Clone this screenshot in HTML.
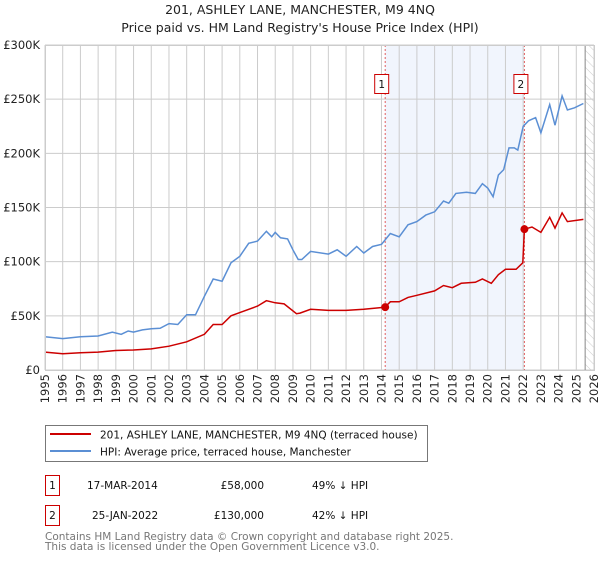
<!DOCTYPE html>
<html><head><meta charset="utf-8"><style>
body{margin:0;background:#fff;font-family:"Liberation Sans","DejaVu Sans",sans-serif;}
svg text{font-family:"DejaVu Sans","Liberation Sans",sans-serif;}
</style></head><body>
<svg id="c" width="600" height="560" xmlns="http://www.w3.org/2000/svg">
<text x="300" y="14" text-anchor="middle" font-size="12.5" fill="#222">201, ASHLEY LANE, MANCHESTER, M9 4NQ</text>
<text x="300" y="32" text-anchor="middle" font-size="12.5" fill="#222">Price paid vs. HM Land Registry's House Price Index (HPI)</text>
<g id="plot"></g>
<g>
<rect x="45.5" y="425.5" width="382" height="36" fill="#fff" stroke="#777"/>
<line x1="50" y1="434" x2="91" y2="434" stroke="#cc0000" stroke-width="2"/>
<text x="100" y="438.5" font-size="10.5" fill="#111">201, ASHLEY LANE, MANCHESTER, M9 4NQ (terraced house)</text>
<line x1="50" y1="451" x2="91" y2="451" stroke="#5b8fd4" stroke-width="2"/>
<text x="100" y="455.5" font-size="10.5" fill="#111">HPI: Average price, terraced house, Manchester</text>
</g>
<g font-size="10.5" fill="#111">
<rect x="45.5" y="475.5" width="14" height="20" fill="#fff" stroke="#cc0000"/>
<text x="52.5" y="489" text-anchor="middle">1</text>
<text x="87" y="489">17-MAR-2014</text>
<text x="264" y="489" text-anchor="end">£58,000</text>
<text x="312" y="489">49% ↓ HPI</text>
<rect x="45.5" y="505.5" width="14" height="20" fill="#fff" stroke="#cc0000"/>
<text x="52.5" y="519" text-anchor="middle">2</text>
<text x="92" y="519">25-JAN-2022</text>
<text x="264" y="519" text-anchor="end">£130,000</text>
<text x="312" y="519">42% ↓ HPI</text>
</g>
<text x="45" y="540" font-size="10.5" fill="#777">Contains HM Land Registry data © Crown copyright and database right 2025.</text>
<text x="45" y="550" font-size="10.5" fill="#777">This data is licensed under the Open Government Licence v3.0.</text>
</svg>
<script>
const hpiYears=[1995,1996,1997,1998,1998.8,1999.3,1999.7,2000,2000.5,2001,2001.5,2002,2002.5,2003,2003.5,2004,2004.5,2005,2005.5,2006,2006.5,2007,2007.5,2007.8,2008,2008.3,2008.7,2009,2009.3,2009.5,2010,2011,2011.5,2012,2012.6,2013,2013.5,2014,2014.5,2015,2015.5,2016,2016.5,2017,2017.5,2017.8,2018.2,2018.8,2019.3,2019.7,2020,2020.3,2020.6,2020.9,2021.2,2021.5,2021.7,2022,2022.3,2022.7,2023,2023.5,2023.8,2024.2,2024.5,2024.9,2025.4];
const hpiValues=[30.7,29,30.7,31.4,35,33,36,35,37,38,38.5,42.8,42,51,51,68,84,82,99,105,117,119,128,123,127,122,121,111,102,102,109.5,107,111,105,114,108,114,116,126,123,134,137,143,146,156,154,163,164,163,172,168,160,180,185,205,205,203,225,230,233,219,245,226,253,240,242,246];
const ppYears=[1995,1996,1997,1998,1999,2000,2001,2002,2003,2004,2004.5,2005,2005.5,2006,2007,2007.5,2008,2008.5,2009.2,2009.4,2010,2011,2012,2013,2014.2,2014.5,2015,2015.5,2016,2017,2017.5,2018,2018.5,2019.3,2019.7,2020.2,2020.6,2021,2021.6,2021.98,2022.07,2022.5,2023,2023.5,2023.8,2024.2,2024.5,2025.4];
const ppValues=[16.5,15,16,16.5,18,18.5,19.5,22,26,33,42,42,50,53,59,64,62,61,52,52.5,56,55,55,56,58,63,63,67,69,73,78,76,80,81,84,80,88,93,93,99,130,132,127,141,131,145,137,139];
const sales=[{n:"1",t:2014.21,v:58},{n:"2",t:2022.07,v:130}];
const yTicks=[0,50,100,150,200,250,300];
const yTickLabels=["£0","£50K","£100K","£150K","£200K","£250K","£300K"];
const xTicks=[1995,1996,1997,1998,1999,2000,2001,2002,2003,2004,2005,2006,2007,2008,2009,2010,2011,2012,2013,2014,2015,2016,2017,2018,2019,2020,2021,2022,2023,2024,2025,2026];

const X0=45,X1=594,Y0=370,Y1=45;
const xs=t=>X0+(t-1995)/(2026-1995)*(X1-X0);
const ys=v=>Y0-v/300*(Y0-Y1);
const NS="http://www.w3.org/2000/svg";
const g=document.getElementById('plot');
function mk(tag,attrs){const e=document.createElementNS(NS,tag);for(const k in attrs)e.setAttribute(k,attrs[k]);g.appendChild(e);return e;}
let e;
e=mk('rect',{x:xs(sales[0].t),y:Y1,width:xs(sales[1].t)-xs(sales[0].t),height:Y0-Y1,fill:'#eef3fc',opacity:0.8});


const defs=document.createElementNS(NS,'defs');defs.innerHTML='<pattern id="h" width="6" height="6" patternUnits="userSpaceOnUse" patternTransform="rotate(-45)"><line x1="0" y1="0" x2="0" y2="6" stroke="#ccc" stroke-width="1"/></pattern>';g.appendChild(defs);
e=mk('rect',{x:xs(2025.5),y:Y1,width:X1-xs(2025.5),height:Y0-Y1,fill:'url(#h)'});


xTicks.forEach(t=>{
 e=mk('line',{x1:xs(t),x2:xs(t),y1:Y1,y2:Y0,stroke:'#ccc','stroke-width':1});
 
 
 const tx=mk('text',{x:0,y:0,'font-size':11.5,fill:'#222','text-anchor':'end',transform:`translate(${xs(t)+4},374) rotate(-90)`});
 tx.textContent=t;
 
 
});
yTicks.forEach((v,i)=>{
 e=mk('line',{x1:X0,x2:X1,y1:ys(v),y2:ys(v),stroke:'#ccc','stroke-width':1});
 
 
 const tx=mk('text',{x:40,y:ys(v)+4,'font-size':11.5,fill:'#222','text-anchor':'end'});
 tx.textContent=yTickLabels[i];
 
 
});
e=mk('line',{x1:xs(2025.5),x2:xs(2025.5),y1:Y1,y2:Y0,stroke:'#888','stroke-width':1});


sales.forEach(s=>{
 e=mk('line',{x1:xs(s.t),x2:xs(s.t),y1:Y1,y2:Y0,stroke:'#e06060','stroke-width':1,'stroke-dasharray':'2,2'});
 
 
});
const pts=(a,b)=>a.map((t,i)=>xs(t).toFixed(1)+','+ys(b[i]).toFixed(1)).join(' ');
e=mk('polyline',{points:pts(hpiYears,hpiValues),fill:'none',stroke:'#5b8fd4','stroke-width':1.5});


e=mk('polyline',{points:pts(ppYears,ppValues),fill:'none',stroke:'#cc0000','stroke-width':1.5});


sales.forEach(s=>{
 e=mk('circle',{cx:xs(s.t),cy:ys(s.v),r:4,fill:'#cc0000'});
 
 
 e=mk('rect',{x:xs(s.t)-10.5,y:74.5,width:14,height:19,fill:'#fff',stroke:'#cc0000'});
 
 
 const tx=mk('text',{x:xs(s.t)-3.5,y:88,'font-size':10.5,fill:'#111','text-anchor':'middle'});
 tx.textContent=s.n;
 
 
});
e=mk('rect',{x:X0+0.5,y:Y1+0.5,width:X1-X0,height:Y0-Y1,fill:'none',stroke:'#ccc'});


</script>
</body></html>
